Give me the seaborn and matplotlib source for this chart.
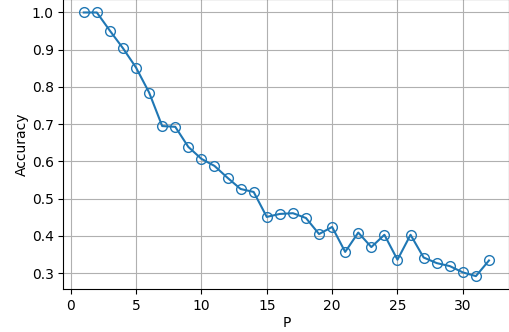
import matplotlib
matplotlib.use("Agg")
import matplotlib.pyplot as plt
import seaborn as sns
import pandas as pd

P = list(range(1, 33))
accuracy = [1.0, 1.0, 0.951, 0.904, 0.852, 0.785, 0.695, 0.693, 0.639, 0.607,
            0.588, 0.556, 0.526, 0.518, 0.451, 0.459, 0.461, 0.448, 0.405, 0.424,
            0.357, 0.409, 0.370, 0.403, 0.336, 0.403, 0.342, 0.327, 0.319, 0.302,
            0.292, 0.334]

df = pd.DataFrame({"P": P, "Accuracy": accuracy})

fig = plt.figure(figsize=(5.1, 3.32), dpi=100)
ax = fig.add_axes([0.1245, 0.1286, 0.874, 0.8735])
sns.lineplot(data=df, x="P", y="Accuracy", ax=ax, marker="o", color="#1f77b4",
             markerfacecolor="none", markeredgecolor="#1f77b4", markeredgewidth=1.0,
             markersize=7, linewidth=1.5)
ax.grid(True, color="#b0b0b0", linewidth=0.8)
ax.set_axisbelow(True)
ax.set_xlabel("P", labelpad=2)
ax.set_ylabel("Accuracy", labelpad=2)
fig.savefig("out.png", dpi=100)
